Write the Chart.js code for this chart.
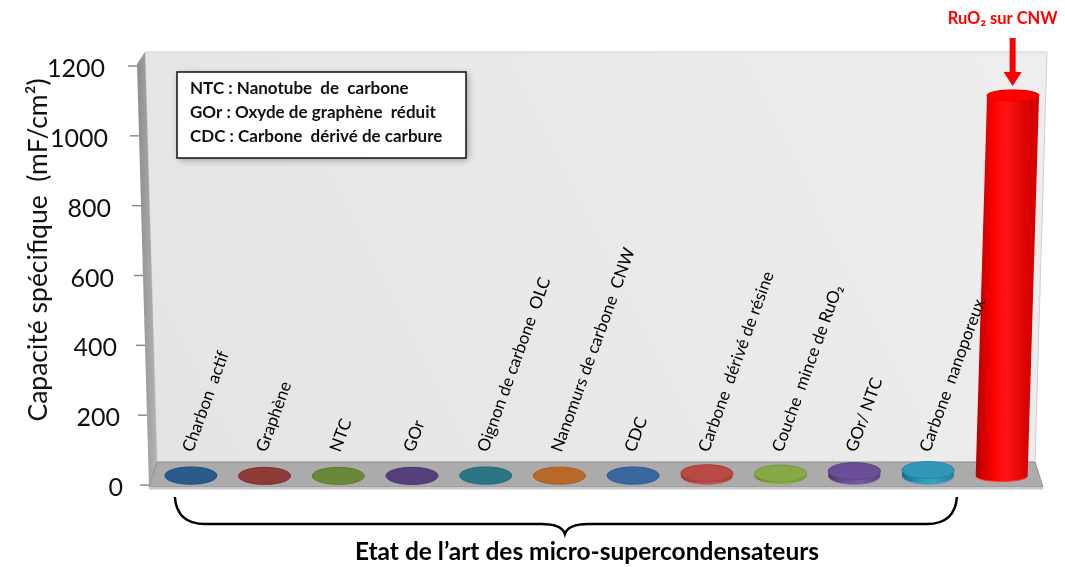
<!DOCTYPE html>
<html>
<head>
<meta charset="utf-8">
<script src="https://cdn.jsdelivr.net/npm/chart.js@4.4.1/dist/chart.umd.min.js"></script>
<style>
  html, body { margin: 0; background: #fff; }
</style>
</head>
<body>
<canvas id="chart" width="1065" height="567"></canvas>
<script>
// data
const categories = ['Charbon  actif', 'Graphène', 'NTC', 'GOr', 'Oignon de carbone  OLC',
  'Nanomurs de carbone  CNW', 'CDC', 'Carbone  dérivé de résine', 'Couche  mince de RuO₂',
  'GOr/ NTC', 'Carbone  nanoporeux', 'RuO₂ sur CNW']
const capacities = [1.5, 0.5, 0.4, 0.5, 1.7, 1, 1.5, 8, 7, 14, 17, 1090]
const barColors = ['#2c5a8a', '#8e3a36', '#6b883a', '#573f7c', '#2c7585', '#b8692a',
  '#3a67a0', '#b84a45', '#86a845', '#6a4e96', '#2f98b6', '#ff0000']
const yTicks = [0, 200, 400, 600, 800, 1000, 1200]
const glossary = ['NTC : Nanotube  de  carbone', 'GOr : Oxyde de graphène  réduit', 'CDC : Carbone  dérivé de carbure']
const yTitle = 'Capacité spécifique  (mF/cm²)'
const xTitle = 'Etat de l’art des micro-supercondensateurs'
const highlight = 'RuO₂ sur CNW'

const FONT = 'Lato, "Open Sans", sans-serif'

function shade(hex, amt) {
  const n = parseInt(hex.slice(1), 16)
  let r = n >> 16, g = (n >> 8) & 255, b = n & 255
  const t = amt < 0 ? 0 : 255, p = Math.abs(amt)
  r = Math.round(r + (t - r) * p); g = Math.round(g + (t - g) * p); b = Math.round(b + (t - b) * p)
  return `rgb(${r},${g},${b})`
}

function cylinder(ctx, cx, baseY, topY, rx, ry, color, slant) {
  const tx = cx + slant
  const g = ctx.createLinearGradient(cx - rx, 0, cx + rx, 0)
  g.addColorStop(0, shade(color, -0.3))
  g.addColorStop(0.35, color)
  g.addColorStop(0.6, shade(color, 0.08))
  g.addColorStop(1, shade(color, -0.15))
  ctx.beginPath()
  ctx.moveTo(cx - rx, baseY)
  ctx.ellipse(cx, baseY, rx, ry, 0, Math.PI, 0, true)
  ctx.lineTo(tx + rx, topY)
  ctx.ellipse(tx, topY, rx, ry, 0, 0, Math.PI, true)
  ctx.closePath()
  ctx.fillStyle = g
  ctx.fill()
  // bottom rim a bit lighter
  ctx.beginPath()
  ctx.ellipse(cx, baseY, rx, ry, 0, 0.15, Math.PI - 0.15)
  ctx.strokeStyle = shade(color, 0.2)
  ctx.lineWidth = 1
  ctx.stroke()
  // top cap
  ctx.beginPath()
  ctx.ellipse(tx, topY, rx, ry, 0, 0, Math.PI * 2)
  ctx.fillStyle = color
  ctx.fill()
  ctx.strokeStyle = shade(color, -0.1)
  ctx.stroke()
}

const scene = {
  id: 'scene',
  beforeDatasetsDraw(chart) {
    const { ctx, chartArea: a, scales: { y } } = chart
    const y0 = y.getPixelForValue(0)
    const yTop = y.getPixelForValue(1200)
    const backY = y0 - 25
    const wallTop = yTop - 16
    ctx.save()

    // back wall
    const wg = ctx.createLinearGradient(a.left, a.bottom, a.right, wallTop)
    wg.addColorStop(0, '#e4e4e4')
    wg.addColorStop(1, '#eeeeee')
    ctx.beginPath()
    ctx.moveTo(a.left + 3, backY)
    ctx.lineTo(a.left - 9, wallTop)
    ctx.lineTo(a.right + 8.5, wallTop)
    ctx.lineTo(a.right - 3.5, backY)
    ctx.closePath()
    ctx.fillStyle = wg
    ctx.fill()
    ctx.strokeStyle = '#cfcfcf'
    ctx.lineWidth = 1
    ctx.stroke()

    // left side wall
    const sg = ctx.createLinearGradient(a.left - 17, 0, a.left + 3, 0)
    sg.addColorStop(0, '#8c8c8c')
    sg.addColorStop(1, '#b4b4b4')
    ctx.beginPath()
    ctx.moveTo(a.left - 17, yTop - 4)
    ctx.lineTo(a.left - 9, wallTop)
    ctx.lineTo(a.left + 3, backY)
    ctx.lineTo(a.left - 5, y0)
    ctx.closePath()
    ctx.fillStyle = sg
    ctx.fill()

    // floor
    ctx.beginPath()
    ctx.moveTo(a.left - 5, y0)
    ctx.lineTo(a.left + 3, backY)
    ctx.lineTo(a.right - 3.5, backY)
    ctx.lineTo(a.right + 4.5, y0)
    ctx.closePath()
    ctx.fillStyle = '#ababab'
    ctx.fill()
    ctx.strokeStyle = '#909090'
    ctx.stroke()
    ctx.beginPath()
    ctx.moveTo(a.left - 5, y0 + 1.5)
    ctx.lineTo(a.right + 4.5, y0 + 1.5)
    ctx.strokeStyle = '#c8c8c8'
    ctx.lineWidth = 2
    ctx.stroke()

    // ticks and labels on the slanted front axis
    const span = y0 - yTop
    ctx.font = `25px ${FONT}`
    ctx.textAlign = 'right'
    ctx.textBaseline = 'middle'
    ctx.fillStyle = '#111'
    y.ticks.forEach(t => {
      const py = y.getPixelForValue(t.value)
      const k = (y0 - py) / span
      const ax = a.left - 5 - 12 * k
      ctx.beginPath()
      ctx.moveTo(ax - 9, py - 2)
      ctx.lineTo(ax, py - 2)
      ctx.strokeStyle = '#8a8a8a'
      ctx.lineWidth = 1.5
      ctx.stroke()
      ctx.fillText(String(t.value), a.left - 31 - 18 * k, py + 1)
    })

    // y title
    ctx.save()
    ctx.translate(38, 250)
    ctx.rotate(-Math.PI / 2)
    ctx.font = `26.5px ${FONT}`
    ctx.textAlign = 'center'
    ctx.fillStyle = '#111'
    ctx.fillText(yTitle, 0, 0)
    ctx.restore()
    ctx.restore()
  },
  afterDatasetsDraw(chart) {
    const { ctx, scales: { x, y } } = chart
    const meta = chart.getDatasetMeta(0)
    const y0 = y.getPixelForValue(0)
    ctx.save()
    meta.data.forEach((bar, i) => {
      const baseY = y0 - 11
      const topY = bar.y - 11
      const tall = baseY - topY > 100
      const ry = tall ? 5.5 : 8.5
      const slant = (baseY - topY) * 0.03
      cylinder(ctx, bar.x, baseY, topY, bar.width / 2, ry, barColors[i], slant)
    })

    // slanted category names on the wall (last one is annotated above)
    ctx.font = `17px ${FONT}`
    ctx.textAlign = 'left'
    ctx.textBaseline = 'alphabetic'
    ctx.fillStyle = '#000'
    categories.slice(0, -1).forEach((c, i) => {
      ctx.save()
      ctx.translate(x.getPixelForValue(i) + 2, 453)
      ctx.rotate(-70 * Math.PI / 180)
      ctx.fillText(c, 0, 0)
      ctx.restore()
    })
    ctx.restore()
  },
  afterDraw(chart) {
    const { ctx, scales: { x } } = chart
    ctx.save()

    // glossary box
    ctx.shadowColor = 'rgba(0,0,0,0.35)'
    ctx.shadowBlur = 7
    ctx.shadowOffsetX = 2
    ctx.shadowOffsetY = 2
    ctx.fillStyle = '#fff'
    ctx.fillRect(177, 72, 289, 86)
    ctx.shadowColor = 'transparent'
    ctx.strokeStyle = '#111'
    ctx.lineWidth = 1.5
    ctx.strokeRect(177, 72, 289, 86)
    ctx.font = `bold 17px ${FONT}`
    ctx.fillStyle = '#111'
    ctx.textAlign = 'left'
    ctx.textBaseline = 'middle'
    glossary.forEach((t, i) => ctx.fillText(t, 190, 89 + i * 24))

    // red annotation with arrow
    const last = categories.length - 1
    const hx = x.getPixelForValue(last)
    ctx.fillStyle = '#ff0000'
    ctx.textAlign = 'center'
    ctx.font = `bold 16.5px ${FONT}`
    ctx.fillText(highlight, hx + 1, 19)
    const ax = hx + 11
    ctx.fillRect(ax - 3, 38, 6, 36)
    ctx.beginPath()
    ctx.moveTo(ax - 9, 72)
    ctx.lineTo(ax + 9, 72)
    ctx.lineTo(ax, 86)
    ctx.closePath()
    ctx.fill()

    // brace under the state-of-the-art bars
    const L = x.getPixelForValue(0) - 16
    const R = x.getPixelForValue(last - 1) + 29
    const M = (L + R) / 2 - 1
    ctx.beginPath()
    ctx.moveTo(L, 497)
    ctx.quadraticCurveTo(L + 2, 524, L + 30, 524)
    ctx.lineTo(M - 24, 524)
    ctx.quadraticCurveTo(M - 3, 524, M, 534)
    ctx.quadraticCurveTo(M + 3, 524, M + 24, 524)
    ctx.lineTo(R - 30, 524)
    ctx.quadraticCurveTo(R - 2, 524, R, 497)
    ctx.strokeStyle = '#000'
    ctx.lineWidth = 2.5
    ctx.stroke()

    ctx.font = `bold 24.5px ${FONT}`
    ctx.fillStyle = '#000'
    ctx.fillText(xTitle, 587, 552)
    ctx.restore()
  }
}

new Chart(document.getElementById('chart'), {
  type: 'bar',
  data: {
    labels: categories,
    datasets: [{
      data: capacities,
      backgroundColor: 'rgba(0,0,0,0)',
      borderWidth: 0,
      barPercentage: 0.705,
      categoryPercentage: 1
    }]
  },
  options: {
    responsive: false,
    animation: false,
    events: [],
    layout: { padding: { left: 0, top: 68, right: 26.5, bottom: 80 } },
    plugins: { legend: { display: false }, tooltip: { enabled: false } },
    scales: {
      x: { display: false },
      y: {
        min: 0,
        max: 1200,
        afterBuildTicks: s => { s.ticks = yTicks.map(v => ({ value: v })) },
        afterFit: s => { s.width = 154 },
        grid: { display: false },
        border: { display: false },
        ticks: { display: false }
      }
    }
  },
  plugins: [scene]
})
</script>
</body>
</html>
